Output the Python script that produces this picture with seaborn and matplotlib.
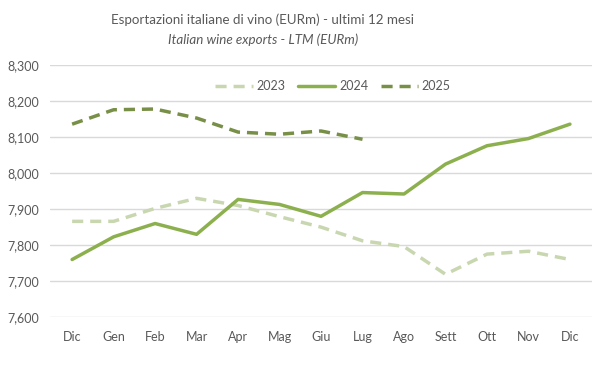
import matplotlib
matplotlib.use("Agg")
import matplotlib.pyplot as plt
import seaborn as sns
import pandas as pd
import numpy as np

months = ["Dic", "Gen", "Feb", "Mar", "Apr", "Mag", "Giu", "Lug", "Ago", "Sett", "Ott", "Nov", "Dic"]
v2023 = [7866, 7866, 7902, 7930, 7910, 7879, 7850, 7812, 7796, 7719, 7775, 7783, 7760]
v2024 = [7760, 7823, 7860, 7830, 7927, 7913, 7880, 7946, 7942, 8025, 8076, 8096, 8136]
v2025 = [8136, 8176, 8178, 8153, 8114, 8108, 8117, 8094]
yticks = [7600, 7700, 7800, 7900, 8000, 8100, 8200, 8300]

sns.set_theme(style="white")
plt.rcParams['font.family'] = ['Lato', 'DejaVu Sans']
txt = "#595959"

fig = plt.figure(figsize=(6.04, 3.83), dpi=100)
ax = fig.add_axes([0.083, 0.172, 0.897, 0.658])

idx = list(range(len(months)))
s23 = pd.DataFrame({"x": idx, "y": v2023})
s24 = pd.DataFrame({"x": idx, "y": v2024})
s25 = pd.DataFrame({"x": idx[:len(v2025)], "y": v2025})

sns.lineplot(data=s23, x="x", y="y", ax=ax, color="#c9d7b0", lw=2.5,
             linestyle=(0, (3.2, 2)), label="2023")
sns.lineplot(data=s24, x="x", y="y", ax=ax, color="#8db04f", lw=2.5,
             label="2024")
sns.lineplot(data=s25, x="x", y="y", ax=ax, color="#788f47", lw=2.5,
             linestyle=(0, (3.2, 2)), label="2025")

ax.set_xlim(-0.53, 12.53)
ax.set_ylim(7600, 8300)
ax.set_yticks(yticks)
ax.set_yticklabels([f"{v:,}" for v in yticks])
ax.set_xticks(idx)
ax.set_xticklabels(months)
ax.tick_params(axis="both", length=0, labelsize=9, colors=txt)
ax.tick_params(axis="x", pad=10)
ax.tick_params(axis="y", pad=8)
ax.grid(axis="y", color="#d9d9d9", lw=1)
ax.grid(axis="x", visible=False)
for s in ax.spines.values():
    s.set_visible(False)
ax.set_xlabel("")
ax.set_ylabel("")

leg = ax.legend(loc="upper center", bbox_to_anchor=(0.522, 0.985), ncol=3, frameon=False,
                fontsize=9, handlelength=3.0, columnspacing=1.0, handletextpad=0.3)
for t in leg.get_texts():
    t.set_color(txt)

fig.text(0.435, 0.948, "Esportazioni italiane di vino (EURm) - ultimi 12 mesi",
         ha="center", va="center", fontsize=9.6, color=txt)
fig.text(0.435, 0.895, "Italian wine exports - LTM (EURm)",
         ha="center", va="center", fontsize=9.6, color=txt, style="italic")

fig.savefig("out.png", dpi=100)
